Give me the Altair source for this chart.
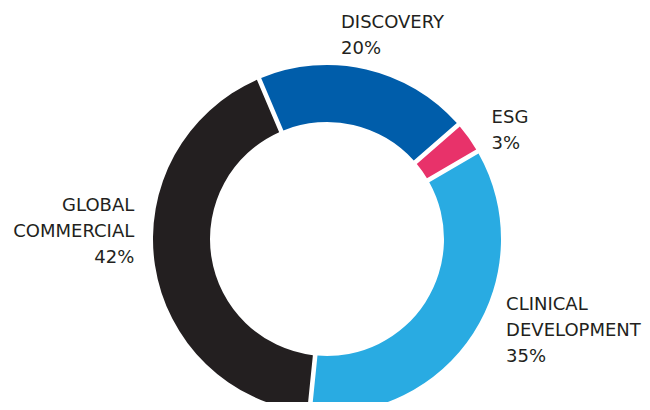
import math
import altair as alt
import pandas as pd

categories = ["DISCOVERY", "ESG", "CLINICAL DEVELOPMENT", "GLOBAL COMMERCIAL"]
values = [20, 3, 35, 42]
labels = ["DISCOVERY\n20%", "ESG\n3%", "CLINICAL\nDEVELOPMENT\n35%", "GLOBAL\nCOMMERCIAL\n42%"]
colors = ["#005DAA", "#E8326A", "#29ABE2", "#231F20"]

df = pd.DataFrame({
    "cat": categories,
    "value": values,
    "label": labels,
    "idx": list(range(len(categories))),
})

start = math.radians(-23)
theta_scale = alt.Scale(domain=[0, 100], range=[start, start + 2 * math.pi])
color_scale = alt.Scale(domain=categories, range=colors)

CX, CY = 319, 231

base = (
    alt.Chart(df)
    .transform_window(end="sum(value)", sort=[alt.SortField("idx")], frame=[None, 0])
    .transform_calculate(start="datum.end - datum.value", mid="datum.end - datum.value / 2")
)

arcs = base.mark_arc(outerRadius=174, innerRadius=117, padAngle=0.022).encode(
    theta=alt.Theta("start:Q", scale=theta_scale),
    theta2="end:Q",
    color=alt.Color("cat:N", scale=color_scale, legend=None),
    x=alt.value(CX),
    y=alt.value(CY),
)

def label_layer(cat, align, dx, dy):
    return base.transform_filter(alt.datum.cat == cat).mark_text(
        align=align, baseline="middle", font="DejaVu Sans", fontSize=18,
        lineHeight=26, lineBreak="\n", color="#231F20", dx=dx, dy=dy,
    ).encode(
        theta=alt.Theta("mid:Q", scale=theta_scale),
        radius=alt.value(200),
        text="label:N",
        x=alt.value(CX),
        y=alt.value(CY),
    )

chart = alt.layer(
    arcs,
    label_layer("DISCOVERY", "left", -31, -21),
    label_layer("ESG", "left", 2, -5),
    label_layer("CLINICAL DEVELOPMENT", "left", 11, -42),
    label_layer("GLOBAL COMMERCIAL", "right", 5, -63),
).properties(width=634, height=394, padding=0, autosize="none").configure_view(stroke=None)

chart.save("out.html", embed_options={"renderer": "svg", "actions": False})
